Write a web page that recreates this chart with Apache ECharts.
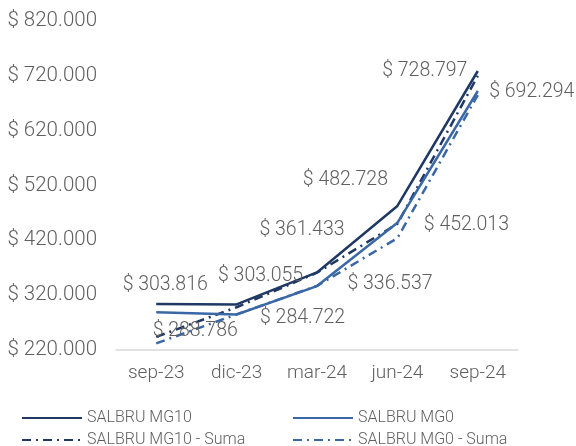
<!DOCTYPE html>
<html>
<head>
<meta charset="utf-8">
<script src="https://cdn.jsdelivr.net/npm/echarts@6/dist/echarts.min.js"></script>
<style>
  html, body { margin: 0; padding: 0; background: #fff; }
  #chart { width: 576px; height: 446px; }
</style>
</head>
<body>
<div id="chart"></div>
<script>
// datos
var categories = ['sep-23', 'dic-23', 'mar-24', 'jun-24', 'sep-24'];
var mg10 = [303816, 303055, 361433, 482728, 728797];
var mg0 = [288786, 284722, 336537, 452013, 692294];
var mg10Suma = [244000, 298000, 361000, 450000, 720000];
var mg0Suma = [232000, 285000, 337000, 424000, 685000];

var chart = echarts.init(document.getElementById('chart'));

var txt = '#5f5f5f';
var font = 'Roboto';
var dark = '#203864';
var mid = '#3a68a6';

function money(v) {
  return '$ ' + String(Math.round(v)).replace(/\B(?=(\d{3})+(?!\d))/g, '.');
}

// posiciones de etiquetas (como en el original)
var mg10Offsets = [[9, -19], [24, -28], [-15, -42], [-52, -26], [-53, 0]];
var mg0Offsets = [[39, 19], [66, 4], [73, -2], [69, 2], [54, 1]];

function labelled(values, offsets) {
  return values.map(function (v, i) {
    return { value: v, label: { offset: offsets[i] } };
  });
}

var lblStyle = {
  show: true,
  position: 'inside',
  formatter: function (p) { return money(p.value); },
  color: txt,
  fontSize: 19.5,
  fontFamily: font,
  fontWeight: 300
};

function legendAt(left, top, name) {
  return {
    left: left, top: top, orient: 'horizontal',
    itemWidth: 60, itemHeight: 14, itemGap: 8,
    itemStyle: { opacity: 0 },
    textStyle: { color: txt, fontSize: 16, fontFamily: font, fontWeight: 300 },
    data: [name]
  };
}

var option = {
  animation: false,
  grid: { left: 116, right: 58, top: 21, bottom: 96 },
  legend: [
    legendAt(16, 405, 'SALBRU MG10'),
    legendAt(16, 427, 'SALBRU MG10 - Suma'),
    legendAt(287, 405, 'SALBRU MG0'),
    legendAt(287, 427, 'SALBRU MG0 - Suma')
  ],
  xAxis: {
    type: 'category',
    data: categories,
    axisLine: { lineStyle: { color: '#d9d9d9', width: 1.5 } },
    axisTick: { lineStyle: { color: '#d9d9d9', width: 1.5 }, length: 5 },
    axisLabel: { color: txt, fontSize: 19, fontFamily: font, fontWeight: 300, margin: 14 }
  },
  yAxis: {
    type: 'value',
    min: 220000, max: 820000, interval: 100000,
    splitLine: { show: false },
    axisLine: { show: false },
    axisTick: { show: false },
    axisLabel: {
      color: txt, fontSize: 20.5, fontFamily: font, fontWeight: 300, margin: 19,
      formatter: money
    }
  },
  series: [
    {
      name: 'SALBRU MG10', type: 'line', symbol: 'circle', symbolSize: 0, z: 4,
      lineStyle: { color: dark, width: 2.5 },
      itemStyle: { color: dark },
      label: lblStyle,
      data: labelled(mg10, mg10Offsets)
    },
    {
      name: 'SALBRU MG0', type: 'line', symbol: 'circle', symbolSize: 0, z: 3,
      lineStyle: { color: mid, width: 2.5 },
      itemStyle: { color: mid },
      label: lblStyle,
      data: labelled(mg0, mg0Offsets)
    },
    {
      name: 'SALBRU MG10 - Suma', type: 'line', symbol: 'none', z: 2,
      lineStyle: { color: dark, width: 2.5, type: [9, 5, 2, 5] },
      itemStyle: { color: dark },
      data: mg10Suma
    },
    {
      name: 'SALBRU MG0 - Suma', type: 'line', symbol: 'none', z: 2,
      lineStyle: { color: mid, width: 2.5, type: [9, 5, 2, 5] },
      itemStyle: { color: mid },
      data: mg0Suma
    }
  ]
};

chart.setOption(option);
</script>
</body>
</html>
